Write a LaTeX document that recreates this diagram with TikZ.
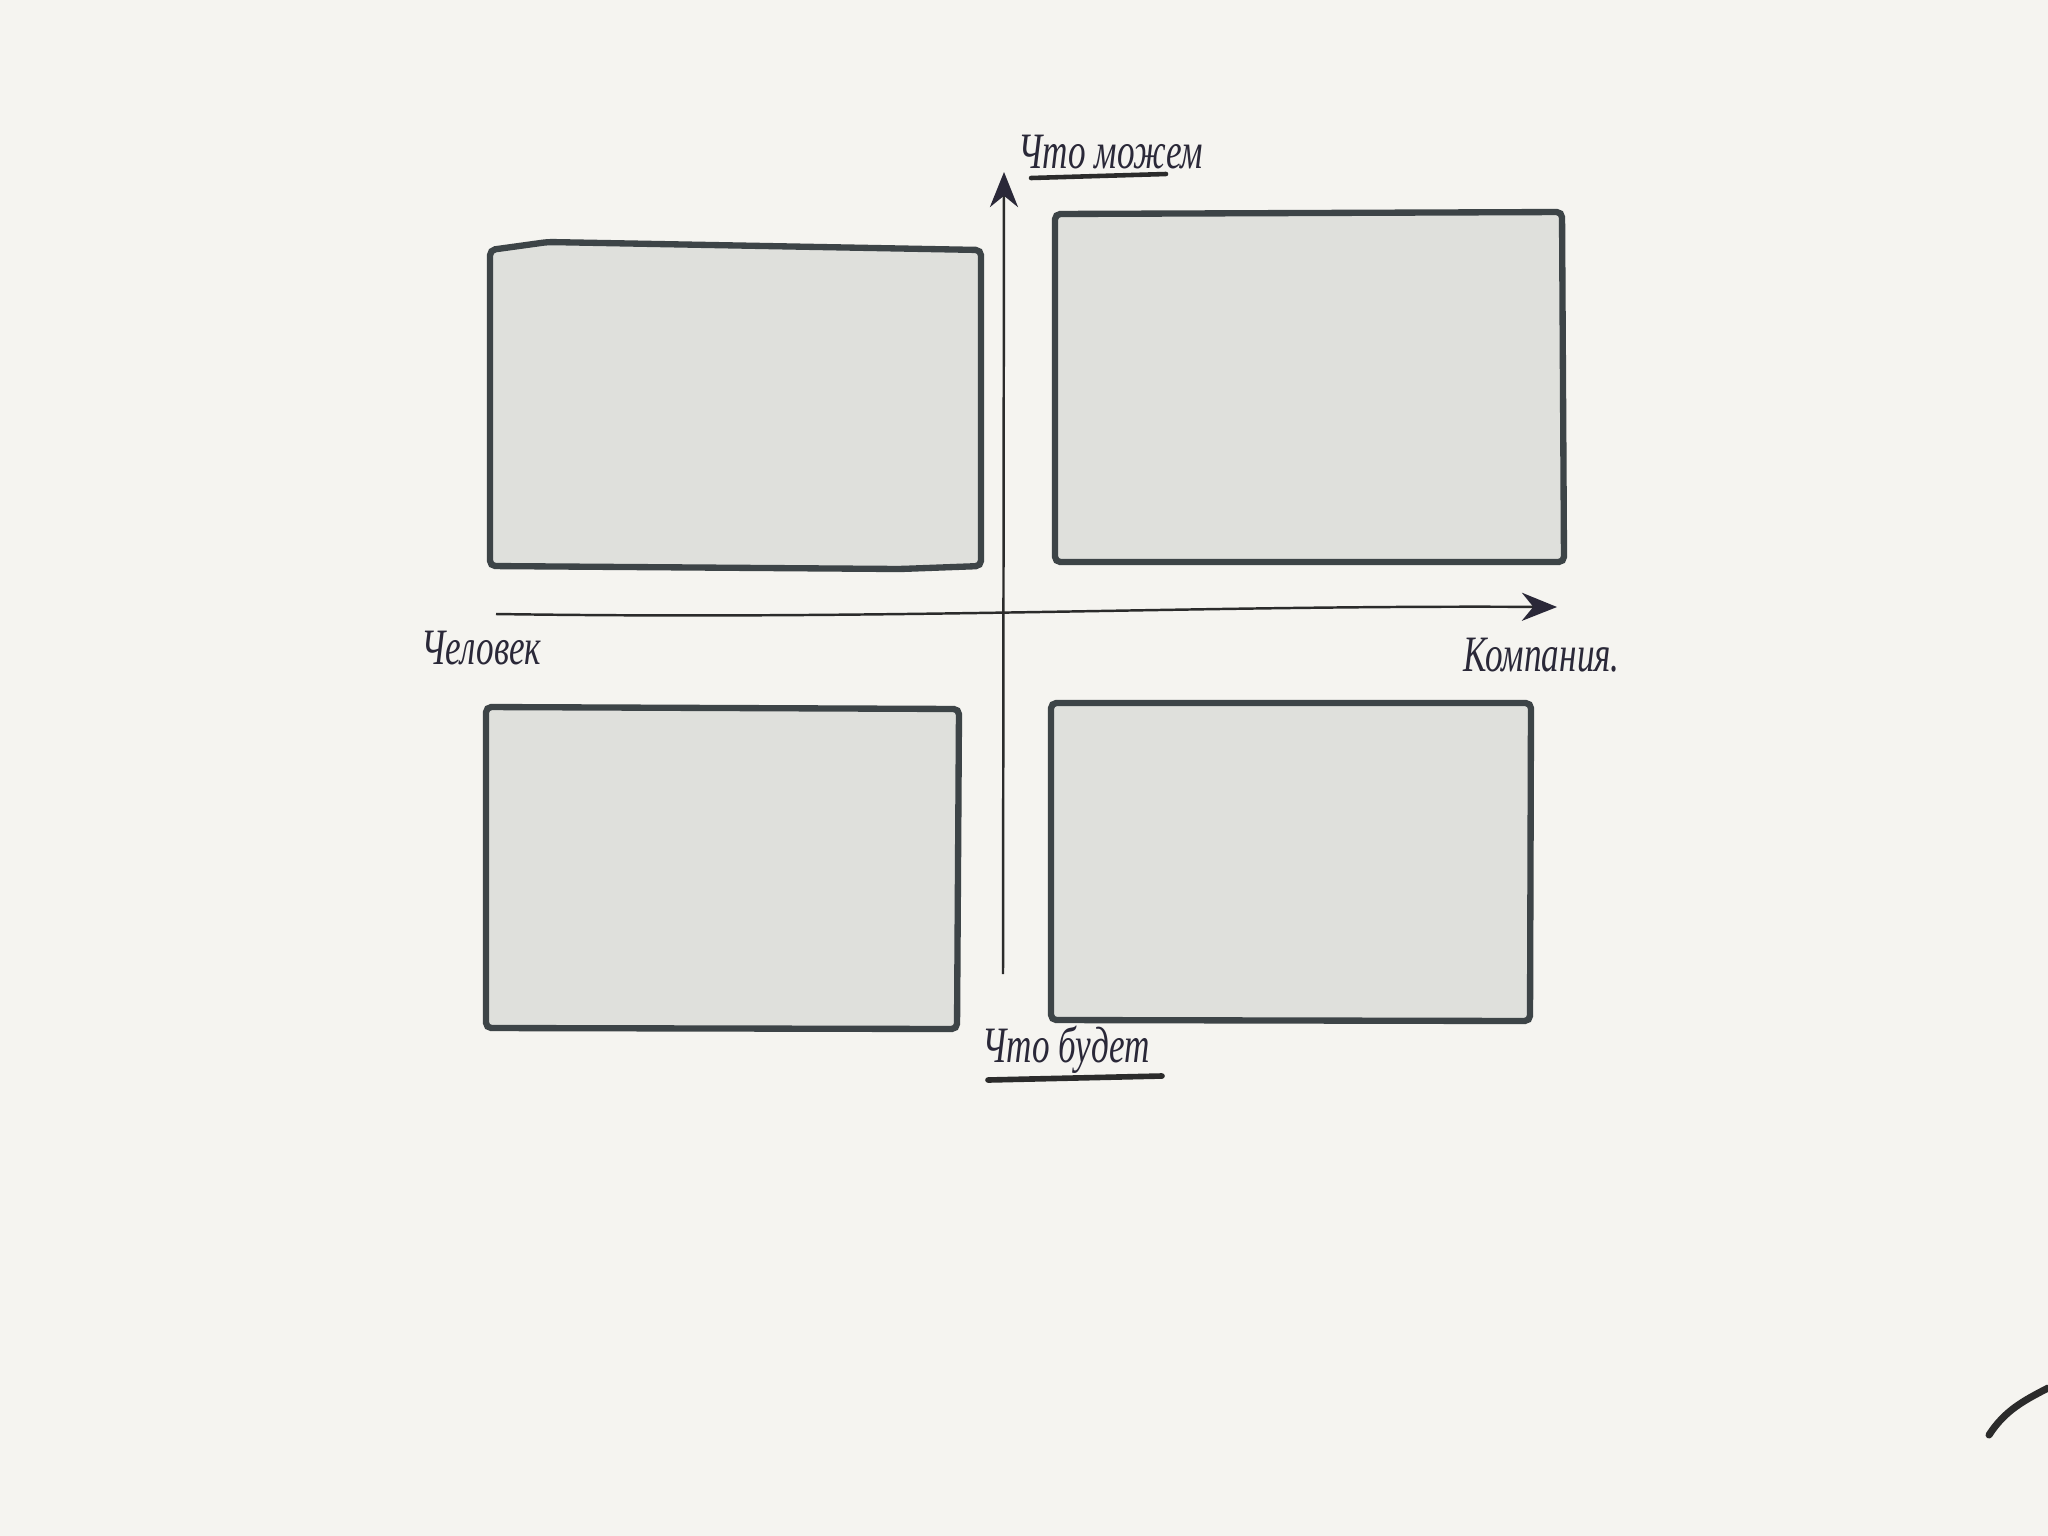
\documentclass[tikz,border=0pt]{standalone}
\usepackage{fontspec}
\usepackage{graphicx}
\setmainfont{Liberation Serif}
\usetikzlibrary{arrows.meta}
\definecolor{bg}{HTML}{F5F4F0}
\definecolor{boxfill}{HTML}{DFE0DC}
\definecolor{boxline}{HTML}{3D4447}
\definecolor{ink}{HTML}{2A2838}
\definecolor{axis}{HTML}{2B2B2B}
\newcommand{\tall}[1]{\scalebox{1}[1.45]{#1}}
\tikzset{
  quad/.style={draw=boxline, fill=boxfill, line width=1.8pt, rounded corners=1.5pt},
  lbl/.style={text=ink, font=\fontsize{10}{12}\selectfont\itshape, inner sep=0pt},
  axisline/.style={draw=axis, line width=0.7pt, -{Stealth[length=10pt,width=8pt,color=ink]}},
  uline/.style={draw=axis, line width=1.3pt, line cap=round}
}
\begin{document}
\begin{tikzpicture}[x=0.01cm,y=-0.01cm]
\useasboundingbox[fill=bg] (0,0) rectangle (2048,1536);
% quadrant boxes
\draw[quad] (490,250) -- (548,242) -- (981,250) -- (981,566) -- (900,569) -- (490,566) -- cycle;
\draw[quad] (1055,214) -- (1562,212) -- (1564,562) -- (1055,562) -- cycle;
\draw[quad] (486,707) -- (959,709) -- (957,1029) -- (486,1028) -- cycle;
\draw[quad] (1051,703) -- (1531,703) -- (1530,1021) -- (1051,1020) -- cycle;
% axes
\coordinate (vbot) at (1003,974);
\coordinate (vtop) at (1004,172);
\coordinate (hleft) at (496,614);
\coordinate (hright) at (1557,607);
\draw[axisline] (vbot) -- (vtop);
\draw[axisline] (hleft) .. controls (900,620) and (1200,605) .. (hright);
% labels
\node[lbl, anchor=base west] (top) at (1018,168) {\tall{Что можем}};
\draw[uline] (1031,178) -- (1166,174);
\node[lbl, anchor=base west] (left) at (421,664) {\tall{Человек}};
\node[lbl, anchor=base west] (right) at (1463,671) {\tall{Компания.}};
\node[lbl, anchor=base west] (bottom) at (982,1062) {\tall{Что будет}};
\draw[uline, line width=1.6pt] (988,1080) -- (1162,1076);
% stray stroke bottom right
\draw[draw=axis, line width=2pt, line cap=round] (1989,1435) .. controls (2005,1410) and (2025,1400) .. (2048,1388);
\end{tikzpicture}
\end{document}
